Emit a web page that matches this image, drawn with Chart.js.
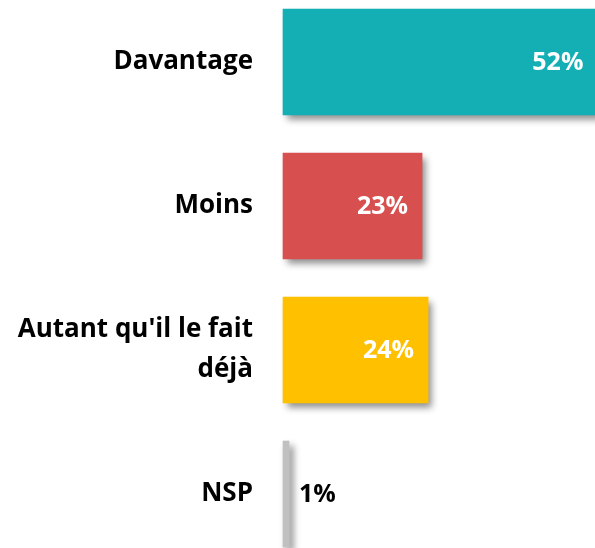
<!DOCTYPE html>
<html>
<head>
<meta charset="utf-8">
<script src="https://cdn.jsdelivr.net/npm/chart.js@4/dist/chart.umd.min.js"></script>
<style>
  body { margin: 0; background: #fff; }
  #wrap { width: 595px; height: 548px; }
</style>
</head>
<body>
<div id="wrap"><canvas id="myChart" width="595" height="548"></canvas></div>
<script>
// data
const categories = ['Davantage', 'Moins', ["Autant qu'il le fait", 'déjà'], 'NSP'];
const values = [52, 23, 24, 1];
const barColors = ['#14AFB5', '#D84F4F', '#FFC000', '#C0C0C0'];
const labelColors = ['#fff', '#fff', '#fff', '#000'];

// drop shadow under the bars (bottom right)
const shadowPlugin = {
  id: 'barShadow',
  beforeDatasetsDraw(chart) {
    const ctx = chart.ctx;
    ctx.save();
    ctx.shadowColor = 'rgba(0,0,0,0.45)';
    ctx.shadowBlur = 7;
    ctx.shadowOffsetX = 4;
    ctx.shadowOffsetY = 5;
  },
  afterDatasetsDraw(chart) {
    chart.ctx.restore();
  }
};

// the % labels, inside the bar end, or outside when the bar is too small
const valueLabels = {
  id: 'valueLabels',
  afterDatasetsDraw(chart) {
    const ctx = chart.ctx;
    const meta = chart.getDatasetMeta(0);
    ctx.save();
    ctx.font = 'bold 25px "Open Sans"';
    ctx.textBaseline = 'middle';
    meta.data.forEach((bar, i) => {
      const txt = values[i] + '%';
      ctx.fillStyle = labelColors[i];
      if (values[i] < 5) {
        ctx.textAlign = 'left';
        ctx.fillText(txt, bar.x + 10, bar.y + 1);
      } else {
        ctx.textAlign = 'right';
        ctx.fillText(txt, bar.x - 14, bar.y + 1);
      }
    });
    ctx.restore();
  }
};

const el = document.getElementById('myChart');
new Chart(el, {
  type: 'bar',
  data: {
    labels: categories,
    datasets: [{
      data: values,
      backgroundColor: barColors,
      barThickness: 106,
      clip: false
    }]
  },
  options: {
    indexAxis: 'y',
    responsive: false,
    animation: false,
    layout: { padding: { top: 62, bottom: 54, left: 0, right: 0 } },
    plugins: { legend: { display: false }, tooltip: { enabled: false } },
    scales: {
      x: { display: false, min: 0, max: 51.6 },
      y: {
        offset: false,
        grid: { display: false, drawTicks: false },
        border: { display: false },
        ticks: {
          color: '#000',
          padding: 30,
          font: { family: '"Open Sans"', weight: 'bold', size: 26, lineHeight: 1.54 }
        },
        afterFit(scale) { scale.width = 283; }
      }
    }
  },
  plugins: [shadowPlugin, valueLabels]
});
</script>
</body>
</html>
